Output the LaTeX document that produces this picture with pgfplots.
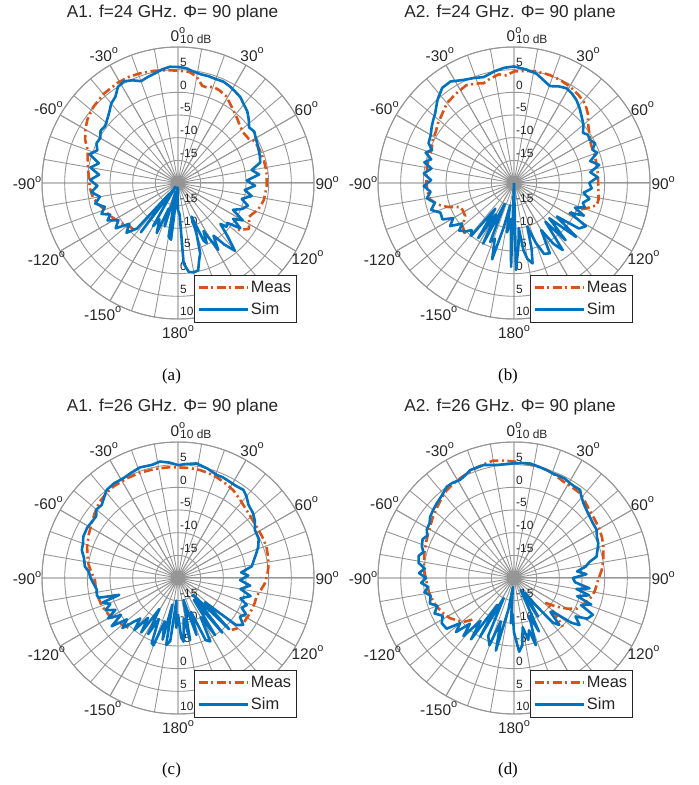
\documentclass[border=0pt]{standalone}
\usepackage{pgfplots}
\pgfplotsset{compat=1.18}
\usepgfplotslibrary{polar}
\usepackage{pgfplotstable}
\usepackage{fontspec}
\setmainfont{Liberation Serif}
\newfontfamily\arial{Liberation Sans}
\definecolor{mblue}{RGB}{0,114,189}
\definecolor{morange}{RGB}{217,83,25}
\definecolor{ggray}{RGB}{150,150,150}
\newcommand\dg{\raisebox{0.5em}{\fontsize{11}{11}\selectfont o}}

% ---------------- data: angle (deg), gain (dB) ----------------
\pgfplotstableread{
-137 -5.8
-132 -5.7
-126 -4.8
-120 -4.0
-115 -3.2
-110 -2.8
-105 -1.8
-100 -1.0
-93 -0.5
-86 -0.3
-80 0.2
-75 0.6
-70 1.2
-65 2.6
-60 3.6
-55 4.4
-48 5.1
-40 5.6
-31 5.8
-25 5.8
-19 5.6
-12 5.3
-6 5.0
0 4.8
6 4.6
10 3.8
14 2.1
17 2.0
20 2.6
24 2.4
29 1.9
33 1.0
37 0.2
42 -0.6
48 -1.5
53 -1.8
58 -1.6
61 -0.8
66 -0.6
70 -0.5
75 -0.4
83 -0.3
92 -0.4
101 -0.7
105 -1.0
109 -1.5
113 -2.3
116 -2.7
119 -2.0
123 -1.4
126 -2.5
130 -3.9
}\measA
\pgfplotstableread{
-180 -14
-176 -19
-173 -7.4
-170 -8
-166 -18
-163 -10
-160 -14
-157 -8
-153 -11
-150 -9
-146 -19
-143 -6.4
-141 -17
-138 -6.5
-134 -4.2
-130 -6.0
-126 -3.0
-122 -4.5
-118 -2.4
-115 -3.5
-112 -1.8
-108 -3.0
-104 -1.2
-100 -2.5
-96 -0.8
-92 -2.2
-88 -0.6
-84 -2.5
-80 -0.4
-76 -2.0
-72 0.5
-68 -0.8
-64 0.0
-60 -0.2
-56 0.6
-52 0.4
-48 1.0
-44 1.8
-40 2.9
-36 3.5
-32 5.0
-28 5.4
-24 4.8
-20 3.9
-16 4.3
-12 4.7
-8 5.3
-4 5.7
0 5.6
4 5.4
8 4.8
12 4.5
16 4.5
20 4.4
24 4.5
28 4.2
32 3.8
36 3.4
40 2.6
44 2.0
48 1.0
52 -0.1
56 0.3
60 -0.2
64 -0.5
68 -0.8
72 -1.0
76 -1.3
80 -3.5
84 -2.0
88 -4.8
92 -3.0
96 -5.2
100 -3.5
104 -5.5
108 -3.8
112 -4.7
116 -6.5
120 -3.5
123 -5.5
126 -3.0
129 -6
132 -5.6
134 -7
137 -4
140 -0.5
143 -3
146 -6
149 -2.8
152 -8
154.5 -5.3
156 -6
158 -12
160 -8
162.5 -3.7
164.5 -2.5
167 -0.2
170 0.0
173 -0.2
176 -2.2
177 -13
180 -14
}\simA
\pgfplotstableread{
-136 -4.4
-130 -5.2
-124 -7
-118 -7.2
-114 -7
-110 -4.5
-106 -2.6
-101 -1.1
-95 -0.8
-90 -0.7
-84 -0.6
-79 -0.5
-72 -0.4
-68 -0.4
-62 0.3
-57 0.6
-52 1.3
-46 2.0
-40 3.0
-33 3.5
-26 4.0
-21 3.5
-17 3.0
-13 3.6
-8 4.2
-4 3.8
0 4.6
5 4.8
11 5.1
18 5.1
24 4.9
30 4.6
36 4.1
42 3.5
47 2.3
51 1.0
56 0.0
61 -0.8
65 -1.1
71 -1.2
77 -1.3
84 -1.4
92 -1.4
101 -1.0
105 -1.1
108 -2.5
110 -3.5
113 -4.8
116 -5.6
120 -6
}\measB
\pgfplotstableread{
-180 -20
-178 -1.5
-175 -12
-172 -9
-170 -15
-167 -10
-164 -2.5
-161 -7
-158 -6
-156 -15
-153 -5
-150 -12
-147 -5.5
-144 -13
-141 -5
-138 -6
-135 -4.9
-131 -4
-128 -5.5
-124 -3
-120 -4.5
-117 -2.3
-112 -2.5
-108 -0.8
-104 -2.0
-100 -0.5
-96 -1.5
-92 -0.1
-88 -1.7
-84 0
-80 -1.5
-77 0.3
-74 -1.0
-71 0.6
-68 -0.5
-65 0.8
-60 1.2
-55.6 2.0
-52 2.6
-48.6 3.2
-42.7 4.9
-37 6.3
-32 6.4
-26 5.3
-21 4.8
-16 4.3
-10 5.0
-5 5.5
0 5.7
6 5.2
11.7 4.6
16 3.6
20.4 2.8
25 3.5
29 3.9
33 3.5
37 2.9
41 2.0
45.6 0.9
50 0
54 -1.2
57 -0.5
60 -0.8
64 -0.1
67 -1.2
70 -0.5
74 -2.5
78 -0.8
82 -3.0
86 -1.5
90 -3.4
94 -2.8
98 -4.5
102 -3
106 -4.2
109 -3.5
112 -5.5
115 -3
118 -6
121 -1.5
125 -2.5
128 -8
131 -1.9
135 -9
138 -3
141 -9
144 -1.7
147 -4
150 -8
153 -2.6
157 -3
160 -6
163 -10
165 -5
167 -1.8
170 -3
172 -5
174 -10
176 -6
178.7 -0.8
180 -20
}\simB
\pgfplotstableread{
-135 -4.5
-131 -4.1
-125 -3.4
-118 -2.7
-110 -2.1
-104 -1.9
-98 -1.7
-92 -1.7
-86 -0.8
-81 0
-76 0.6
-71 1.2
-64 1.9
-58 2.5
-52 3.3
-46 4.1
-40 4.5
-35 4.7
-27 4.7
-20 4.7
-12 4.6
-5 4.5
0 4.4
6 4.4
11.5 4.3
16 4.1
21 3.8
26 3.4
32 2.9
38 2.1
45 1.3
51 0.9
57 0.7
64 0.7
70.5 0.7
77 0.4
83 0.1
88 -0.3
93.5 -0.8
98 -1.5
103 -2.2
108 -2.2
113.5 -2.3
119 -2.4
125 -2.5
130.6 -2.9
134 -3.5
}\measC
\pgfplotstableread{
-180 -12
-178 -9
-176 -15
-173 -6
-170 -5
-168 -14
-166 -6
-163 -10
-160 -4.2
-158 -4.5
-155 -10
-152 -6
-149 -12
-146 -5.5
-143 -9
-140 -5
-137 -7.8
-135 -6.5
-132 -3.5
-129 -5.5
-126 -1.9
-123 -5
-120 -2.2
-117 -4.5
-114 -2.5
-111 -4
-108 -2.5
-106 -6.5
-104 -2.0
-102 -1.7
-98 -1.9
-93 -1.2
-89 -0.6
-86 -0.3
-83 0.7
-78 1.2
-73.8 2.1
-70 2.3
-66.4 2.8
-61 2.9
-57 2.7
-53 2.6
-50 3.5
-46.3 3.3
-43 4.0
-39 5.0
-34 5.2
-28.7 5.1
-24 5.4
-19 5.8
-13 5.6
-8.8 6.0
-4 5.5
0 4.9
4 5.2
9.2 5.6
15 5.0
20.6 4.3
24 4.3
28.4 4.1
32 4.0
36.6 4.2
40 3.5
44 2.4
49 1.9
53 1.2
58 0
64 -0.2
68.7 -1.0
73 -2.0
77.8 -3.0
81 -3.5
85 -6
88 -4.5
92 -6.3
96 -4
100 -6
104 -3.5
108 -5.5
111.5 -3.7
115 -4.5
118 -3
122 -3.9
125.7 -2.3
129 -3.5
132 -12
135 -4
138 -15
141 -4.5
144 -14
147 -5
150 -10
153 -4.3
156 -5
159 -12
162 -6.8
166 -15
169 -6
172 -11
175 -5.9
177 -7
180 -12
}\simC
\pgfplotstableread{
-135 -7
-131 -5.2
-126 -4.2
-122 -3.3
-116 -2.5
-110 -1.8
-105 -1.4
-100 -1.0
-95 -0.8
-91 -0.6
-86 -0.2
-80.7 0.1
-75 0.5
-68.5 0.9
-63 1.3
-58.6 1.7
-53 2.4
-47 3.1
-42 3.8
-37.4 4.4
-33 4.7
-28.4 5.0
-23 5.4
-18.6 5.7
-14 6.0
-10 6.3
-5 6.0
0 5.7
5 5.5
10 5.2
14 5.0
18.7 4.8
23 4.3
27 3.9
32 3.8
38 3.7
43 3.0
48.9 2.3
54 2.0
58.7 1.8
65 1.4
70.7 0.9
78.6 0.1
85 -0.6
91 -1.4
98.4 -1.9
103 -2.3
106.5 -2.9
110 -3.5
116 -4.6
120 -6.5
124 -8.7
128 -11
131 -8
135 -4.8
}\measD
\pgfplotstableread{
-180 -8
-178 -12
-176 -10
-173 -18
-170 -13
-166 -3.5
-163 -10
-160 -4.2
-156 -6
-153 -15
-150 -5
-148 -13
-145 -3.5
-142 -8
-139 -3
-136 -6
-133 -2.5
-130 -4.5
-127 -1.4
-122 -1.2
-118 -2.2
-114 -0.8
-110 -2.0
-106.8 -0.6
-102 -1.2
-99 0.0
-96 -1.0
-93 0.5
-90 -0.6
-87 1.0
-84 -0.2
-81 1.3
-77 1.6
-74 0.8
-71 1.5
-67 1.9
-64 1.3
-61 2.0
-57 2.2
-53.9 2.9
-50 3.3
-46 3.7
-41 4.2
-36.4 5.0
-33 5.0
-29 4.7
-26 5.0
-22 5.7
-15 5.8
-8 5.2
-4 5.2
0 5.3
4 5.4
8 5.5
12 5.2
16.8 4.9
20 4.6
24.4 4.6
27 4.6
30.6 4.3
33 4.2
36.9 4.3
39 3.5
42.9 2.5
47 1.9
51 1.5
55 1.2
59.9 1.1
63 0.5
67.6 0.1
71 -0.5
75.5 -1.2
78 -3
81 -4
84 -6
87 -4
90 -7
94 -6.5
97.8 -3.2
100 -6
103 -3
106 -5.5
109 -2
112 -4
115 -0.8
119 -1.5
122 -4
125.7 -2.2
128 -4
131 -8.7
133 -9
136 -5.6
139 -7
142 -13
144 -16
148 -10
151 -17
155 -7
158 -11
162 -4.4
164 -8
167 -6
170 -9
173 -5
176 -3.7
180 -8
}\simD

\pgfplotsset{
  pp/.style={
    scale only axis, width=272bp, height=272bp,
    anchor=center,
    xmin=0, xmax=360, ymin=0, ymax=30,
    xtick={0,30,...,330},
    xticklabels={},
    minor xtick={0,10,...,350},
    ytick={5,10,...,30},
    yticklabels={},
    grid=both,
    major grid style={ggray, line width=0.9bp},
    minor grid style={ggray, line width=0.9bp},
    axis line style={ggray, line width=1bp},
    major tick length=0pt, minor tick length=0pt,
    clip=false,
    legend style={at={(0.559,0.162)}, anchor=north west, draw=black!85, line width=0.7bp, fill=white,
      font=\arial\fontsize{16.5}{17}\selectfont, inner xsep=3bp, inner ysep=4bp,
      row sep=5bp, cells={anchor=west}, text=black!85},
    legend image code/.code={\draw[##1] (0bp,0bp) -- (49bp,0bp);},
  },
  meas/.style={morange, line width=2.6bp, line join=round, dash pattern=on 9bp off 3.5bp on 2bp off 3.5bp},
  sim/.style={mblue, line width=2.6bp, line join=round},
}
\tikzset{rl/.style={anchor=south west, inner sep=0pt, xshift=2bp, yshift=3bp,
  font=\arial\fontsize{12}{12}\selectfont, text=black!85},
  al/.style={anchor=center, inner sep=0pt, font=\arial\fontsize{15.5}{15.5}\selectfont, text=black!85}}
\newcommand\radlabels{%
  \node[rl] at (axis cs:90,30) {10 dB};
  \node[rl] at (axis cs:90,25) {5};
  \node[rl] at (axis cs:90,20) {0};
  \node[rl] at (axis cs:90,15) {-5};
  \node[rl] at (axis cs:90,10) {-10};
  \node[rl] at (axis cs:90,5) {-15};
  \node[rl] at (axis cs:270,5) {-15};
  \node[rl] at (axis cs:270,10) {-10};
  \node[rl] at (axis cs:270,15) {-5};
  \node[rl] at (axis cs:270,20) {0};
  \node[rl] at (axis cs:270,25) {5};
  \node[rl] at (axis cs:270,30) {10};
  \node[al] at (axis cs:90,32.7) {0\dg};
  \node[al] at (axis cs:60,32.7) {30\dg};
  \node[al] at (axis cs:30,32.7) {60\dg};
  \node[al] at (axis cs:0,32.9) {90\dg};
  \node[al] at (axis cs:-30,33) {120\dg};
  \node[al] at (axis cs:-90,32.9) {180\dg};
  \node[al] at (axis cs:120,32.7) {-30\dg};
  \node[al] at (axis cs:150,33) {-60\dg};
  \node[al] at (axis cs:180,33.3) {-90\dg};
  \node[al] at (axis cs:210,33.5) {-120\dg};
  \node[al] at (axis cs:240,33.2) {-150\dg};
}
\newcommand\pplot[2]{%
  \addplot[meas] table[x expr=90-\thisrowno{0}, y expr=\thisrowno{1}+20] {#1};
  \addplot[sim] table[x expr=90-\thisrowno{0}, y expr=\thisrowno{1}+20] {#2};
  \legend{Meas,Sim}
}

\begin{document}
\begin{tikzpicture}
\useasboundingbox (0,0) rectangle (699bp,785bp);
\tikzset{tt/.style={font=\arial\fontsize{17.3}{18}\selectfont, text=black!85},
         capt/.style={font=\fontsize{17}{17}\selectfont}}

\begin{polaraxis}[pp, at={(178bp,602bp)}]
\radlabels
\pplot{\measA}{\simA}
\end{polaraxis}
\begin{polaraxis}[pp, at={(514bp,602bp)}]
\radlabels
\pplot{\measB}{\simB}
\end{polaraxis}
\begin{polaraxis}[pp, at={(178bp,207bp)}]
\radlabels
\pplot{\measC}{\simC}
\end{polaraxis}
\begin{polaraxis}[pp, at={(514bp,207bp)}]
\radlabels
\pplot{\measD}{\simD}
\end{polaraxis}

\node[tt] at (172.5bp,772bp) {A1. f=24 GHz. Φ= 90 plane};
\node[tt] at (510bp,772bp) {A2. f=24 GHz. Φ= 90 plane};
\node[tt] at (172.5bp,378bp) {A1. f=26 GHz. Φ= 90 plane};
\node[tt] at (510bp,378bp) {A2. f=26 GHz. Φ= 90 plane};

\node[capt] at (171.5bp,409bp) {(a)};
\node[capt] at (508bp,409bp) {(b)};
\node[capt] at (171.5bp,15bp) {(c)};
\node[capt] at (508bp,15bp) {(d)};
\end{tikzpicture}
\end{document}
